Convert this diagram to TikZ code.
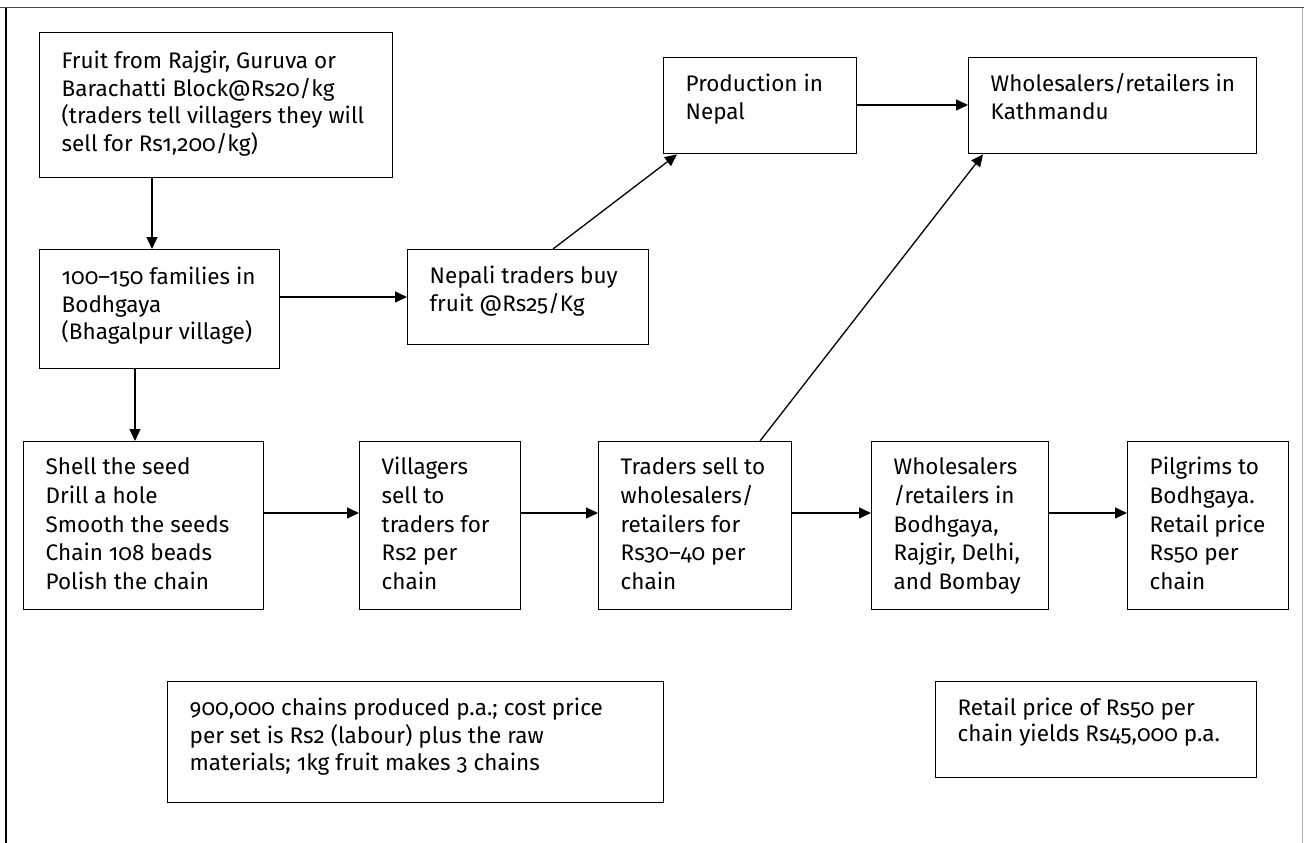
\documentclass[tikz,border=0pt]{standalone}
\usepackage{fontspec}
\setmainfont{Fira Sans}[Numbers=OldStyle]
\usetikzlibrary{arrows.meta,calc}
\newcommand\bxt[4]{\parbox[t][#2][t]{#1}{\raggedright\leftskip=22pt\rule{0pt}{#3}#4}}
\tikzset{
  box/.style={draw=black, line width=1.4pt, inner sep=0pt, anchor=north west, fill=white},
  arr/.style={line width=1.3pt, -{Triangle[length=12pt,width=11pt]}},
  txt/.style={font=\fontsize{22.5}{27.5}\selectfont},
  txtb/.style={font=\fontsize{22.5}{28.7}\selectfont}
}
\begin{document}
\begin{tikzpicture}[x=1pt,y=-1pt]
\useasboundingbox (0,0) rectangle (1304,843);
% frame
\draw[black!70, line width=1pt] (0,8) -- (1304,8);
\draw[black, line width=1.2pt] (6,8) -- (6,843);
\draw[black!30, line width=1pt] (1302,8) -- (1302,843);
% top boxes
\node[box, txt] (b1) at (39,32) {\bxt{353pt}{145pt}{36pt}{\spaceskip=6pt plus 2pt Fruit from Rajgir, Guruva or\\Barachatti Block@Rs20/kg\\(traders tell villagers they will\\sell for Rs1,200/kg)}};
\node[box, txt] (b2) at (39,249) {\bxt{240pt}{119pt}{35pt}{100–150 families in\\Bodhgaya\\(Bhagalpur village)}};
\node[box, txt] (nep) at (407,249) {\bxt{241pt}{95pt}{34pt}{Nepali traders buy\\fruit @Rs25/Kg}};
\node[box, txt] (prod) at (663,57) {\bxt{193pt}{96pt}{34pt}{Production in\\Nepal}};
\node[box, txt] (kath) at (968,57) {\bxt{288pt}{96pt}{34pt}{Wholesalers/retailers in\\Kathmandu}};
% row 3
\node[box, txtb] (shell) at (23,441) {\bxt{240pt}{168pt}{33pt}{Shell the seed\\Drill a hole\\Smooth the seeds\\Chain 108 beads\\Polish the chain}};
\node[box, txtb] (vill) at (359,441) {\bxt{161pt}{168pt}{33pt}{Villagers\\sell to\\traders for\\Rs2 per\\chain}};
\node[box, txtb] (trad) at (598,441) {\bxt{193pt}{168pt}{33pt}{Traders sell to\\wholesalers/\\retailers for\\Rs30–40 per\\chain}};
\node[box, txtb] (whol) at (871,441) {\bxt{177pt}{168pt}{33pt}{Wholesalers\\/retailers in\\Bodhgaya,\\Rajgir, Delhi,\\and Bombay}};
\node[box, txtb] (pilg) at (1127,441) {\bxt{161pt}{168pt}{33pt}{Pilgrims to\\Bodhgaya.\\Retail price\\Rs50 per\\chain}};
% notes
\node[box, txt] (note1) at (167,681) {\bxt{496pt}{121pt}{34pt}{900,000 chains produced p.a.; cost price\\per set is Rs2 (labour) plus the raw\\materials; 1kg fruit makes 3 chains}};
\node[box, font=\fontsize{22.5}{26}\selectfont] (note2) at (935,681) {\bxt{321pt}{96pt}{34pt}{Retail price of Rs50 per\\chain yields Rs45,000 p.a.}};
% connectors
\draw[arr] ($(b1.south west)+(113,0)$) -- ($(b2.north west)+(113,0)$);
\draw[arr] ($(b2.south west)+(96,0)$) -- ($(shell.north west)+(112,0)$);
\draw[arr] ($(b2.north east)+(0,48)$) -- ($(nep.north west)+(0,48)$);
\draw[arr] ($(nep.north west)+(146,0)$) -- ($(prod.south west)+(14,0)$);
\draw[arr] ($(prod.north east)+(0,48)$) -- ($(kath.north west)+(0,48)$);
\draw[arr] ($(trad.north west)+(162,0)$) -- ($(kath.south west)+(15,0)$);
\draw[arr] ($(shell.north east)+(0,72)$) -- ($(vill.north west)+(0,72)$);
\draw[arr] ($(vill.north east)+(0,72)$) -- ($(trad.north west)+(0,72)$);
\draw[arr] ($(trad.north east)+(0,72)$) -- ($(whol.north west)+(0,72)$);
\draw[arr] ($(whol.north east)+(0,72)$) -- ($(pilg.north west)+(0,72)$);
\end{tikzpicture}
\end{document}
